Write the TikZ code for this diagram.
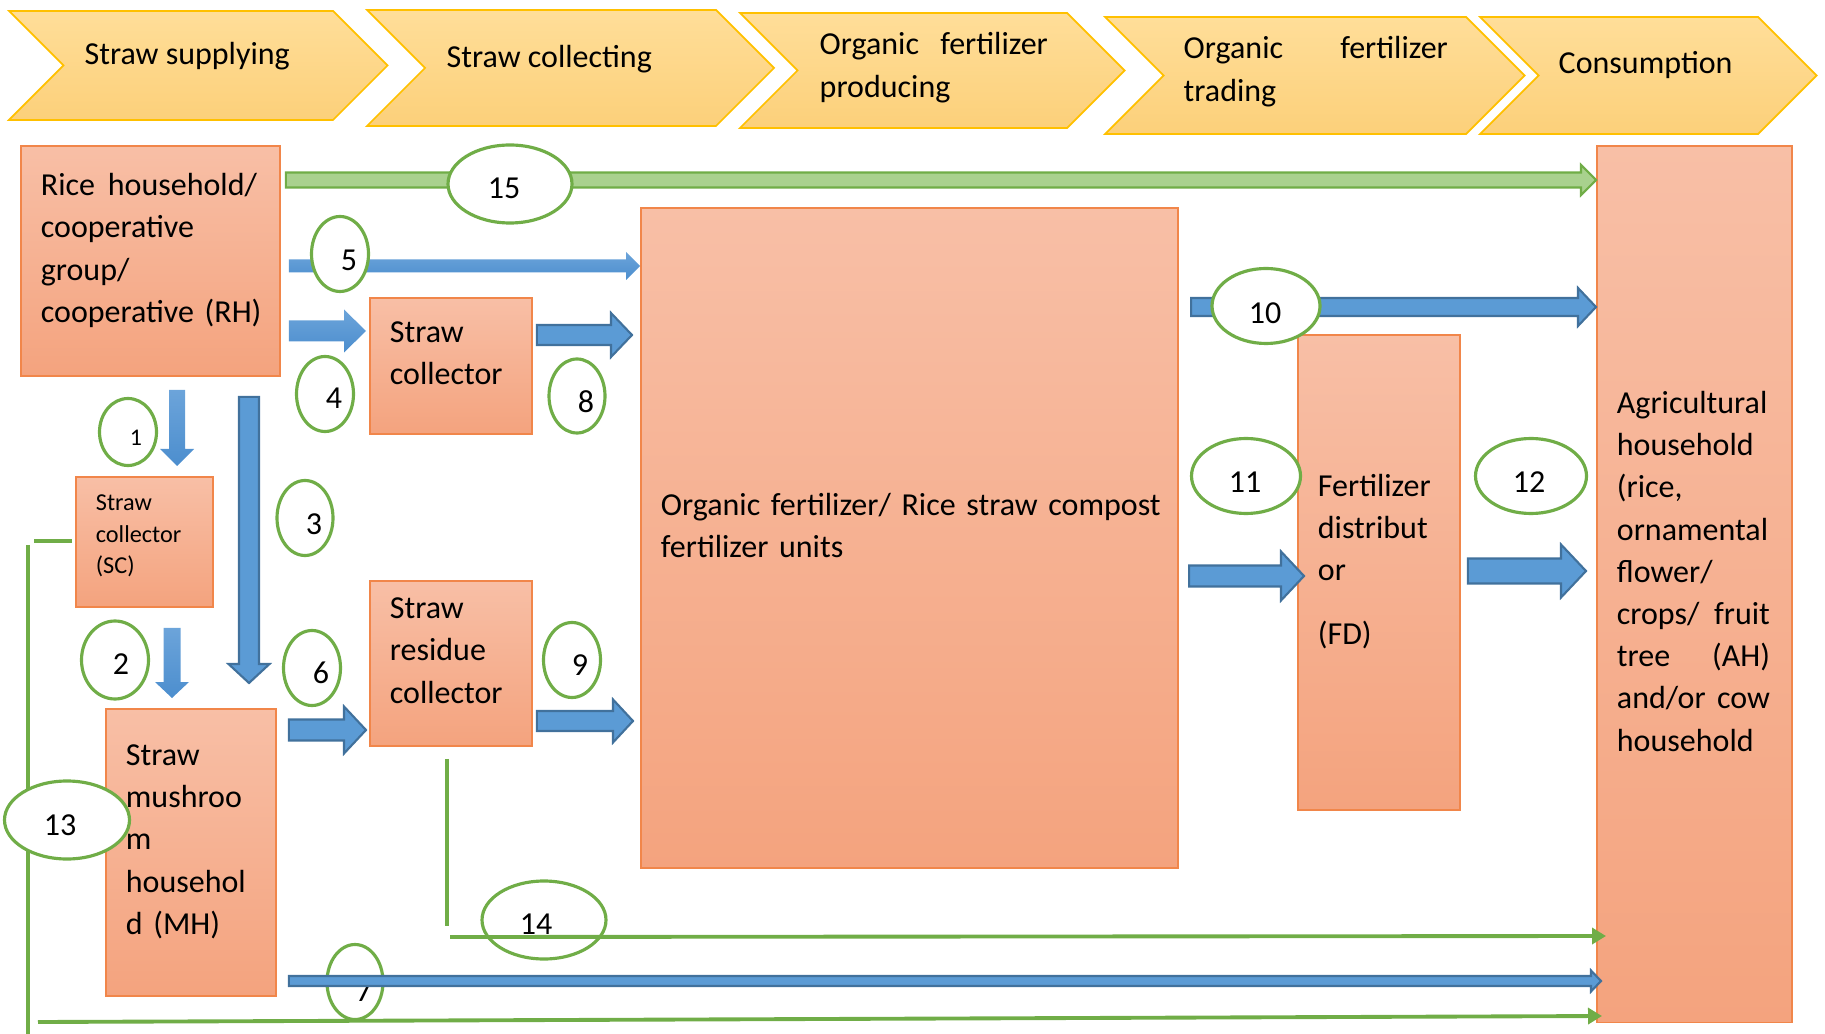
\documentclass[tikz,border=0pt]{standalone}
\usepackage{fontspec}
\setmainfont{Carlito}
\usetikzlibrary{calc,shapes.geometric,arrows.meta}
\definecolor{boxtop}{RGB}{248,191,166}
\definecolor{boxbot}{RGB}{244,163,126}
\definecolor{boxline}{RGB}{241,134,74}
\definecolor{phasetop}{RGB}{255,222,153}
\definecolor{phasebot}{RGB}{252,208,122}
\definecolor{phaseline}{RGB}{255,192,0}
\definecolor{flow}{RGB}{91,155,213}
\definecolor{flowtop}{RGB}{108,164,218}
\definecolor{flowbot}{RGB}{76,142,206}
\definecolor{flowline}{RGB}{65,113,156}
\definecolor{greenline}{RGB}{112,173,71}
\definecolor{greenfill}{RGB}{169,209,142}
\tikzstyle{box} = [draw=boxline, line width=0.5pt, top color=boxtop, bottom color=boxbot, anchor=north west, align=left, inner xsep=0.2cm, inner ysep=0pt]
\tikzstyle{unit} = [box, execute at end node={\rule[-0.26cm]{0pt}{0pt}}]
\tikzstyle{smallunit} = [box, font=\fontsize{6.9}{9}\selectfont, execute at end node={\rule[-0.15cm]{0pt}{0pt}}]
\tikzstyle{phase} = [draw=phaseline, line width=0.5pt, top color=phasetop, bottom color=phasebot]
\tikzstyle{phasetext} = [anchor=base west, inner sep=0pt, align=left]
\tikzstyle{num} = [ellipse, draw=greenline, line width=0.9pt, fill=white, inner sep=0pt]
\tikzstyle{numtext} = [inner sep=0pt]
\tikzstyle{link} = [draw=greenline, line width=1.1pt]
\tikzstyle{linkto} = [link, -{Triangle[length=0.14cm,width=0.16cm]}]
\tikzstyle{bblock} = [fill=flow, draw=flowline, line width=0.6pt]
\tikzstyle{bplain} = [top color=flowtop, bottom color=flowbot, draw=none]
\tikzstyle{gblock} = [fill=greenfill, draw=greenline, line width=0.6pt]
% justified line: width, first word, rest
\newcommand{\spread}[3]{\makebox[#1][l]{#2\hfill#3}}
% block arrows: style, from, to, half shaft, half head, head length (px)
\newcommand{\harrow}[6]{%
  \draw[#1] let \p1=(#2), \p2=(#3) in
    (\x1,\y1+#4*0.01cm) -- (\x2-#6*0.01cm,\y1+#4*0.01cm) -- (\x2-#6*0.01cm,\y1+#5*0.01cm)
    -- (\x2,\y1) -- (\x2-#6*0.01cm,\y1-#5*0.01cm) -- (\x2-#6*0.01cm,\y1-#4*0.01cm)
    -- (\x1,\y1-#4*0.01cm) -- cycle;}
\newcommand{\varrow}[6]{%
  \draw[#1] let \p1=(#2), \p2=(#3) in
    (\x1-#4*0.01cm,\y1) -- (\x1-#4*0.01cm,\y2+#6*0.01cm) -- (\x1-#5*0.01cm,\y2+#6*0.01cm)
    -- (\x1,\y2) -- (\x1+#5*0.01cm,\y2+#6*0.01cm) -- (\x1+#4*0.01cm,\y2+#6*0.01cm)
    -- (\x1+#4*0.01cm,\y1) -- cycle;}
\begin{document}
\begin{tikzpicture}[x=0.01cm, y=-0.01cm, font=\fontsize{9.1}{12}\selectfont]
\useasboundingbox (0,0) rectangle (1825,1034);

% stages
\foreach \x/\y/\w/\h in {9/11/324/109, 367/10/349/116, 740/13/327/115, 1105/17/361/117, 1480/17/278/117}
  \draw[phase] (\x,\y) -- ++(\w,0) -- ++(\h/2,\h/2) -- ++(-\h/2,\h/2) -- ++(-\w,0) -- ++(\h/2,-\h/2) -- cycle;
\node[phasetext] (supply) at (84,65) {Straw supplying};
\node[phasetext] (collect) at (446,68) {Straw collecting};
\node[phasetext, text width=2.28cm] (produce) at (819,55) {\spread{2.28cm}{Organic}{fertilizer}\\producing};
\node[phasetext, text width=2.64cm] (trade) at (1183,59) {\spread{2.64cm}{Organic}{fertilizer}\\trading};
\node[phasetext] (consume) at (1558,74) {Consumption};

% actors
\node[unit, minimum width=2.59cm, minimum height=2.30cm, text width=2.19cm] (rh) at (20,145)
  {\spread{2.16cm}{Rice}{household/}\\cooperative\\group/\\\mbox{cooperative (RH)}};
\node[smallunit, minimum width=1.37cm, minimum height=1.30cm, text width=0.97cm] (sc) at (75,476)
  {Straw\\collector\\(SC)};
\node[unit, minimum width=1.62cm, minimum height=1.36cm, text width=1.22cm] (coll) at (369,297)
  {Straw\\collector};
\node[unit, minimum width=1.62cm, minimum height=1.65cm, text width=1.22cm] (res) at (369,580)
  {Straw\\residue\\collector};
\node[unit, minimum width=1.70cm, minimum height=2.87cm, text width=1.30cm] (mh) at (105,708)
  {Straw\\mushroo\\m\\househol\\d (MH)};
\node[unit, minimum width=5.37cm, minimum height=6.60cm, text width=4.97cm] (of) at (640,207)
  {\mbox{Organic fertilizer/ Rice straw compost}\\fertilizer units};
\node[unit, minimum width=1.62cm, minimum height=4.75cm, text width=1.22cm] (fd) at (1297,334)
  {Fertilizer\\distribut\\or\\[0.22cm](FD)};
\node[unit, minimum width=1.95cm, minimum height=8.76cm, text width=1.55cm] (ah) at (1596,145)
  {Agricultural\\household\\(rice,\\ornamental\\flower/\\\spread{1.53cm}{crops/}{fruit}\\\spread{1.53cm}{tree}{(AH)}\\\spread{1.53cm}{and/or}{cow}\\household};

% numbers under the flows
\foreach \n/\x/\y/\w/\h/\dx/\dy/\t in {7/355/982/56/75/9/9/7, 14/544/920/124/78/-8/4/14}
{
  \node[num, minimum width=\w*0.01cm, minimum height=\h*0.01cm] (e\n) at (\x,\y) {};
  \node[numtext] (t\n) at ([shift={(\dx,\dy)}]e\n.center) {\t};
}

% flows
\harrow{gblock}{$(rh.east|-0,180)+(5,0)$}{ah.west|-0,180}{7.5}{15}{15}
\harrow{bplain}{$(rh.east|-0,266)+(8,0)$}{of.west|-0,266}{6.5}{14}{14}
\harrow{bplain}{$(rh.east|-0,331)+(8,0)$}{$(coll.west|-0,331)+(-3,0)$}{10.5}{21.5}{22}
\harrow{bblock}{$(coll.east|-0,335)+(4,0)$}{$(of.west|-0,335)+(-8,0)$}{10}{22}{21}
\harrow{bblock}{$(mh.east|-0,730)+(12,0)$}{$(res.west|-0,730)+(-3,0)$}{10.5}{23.5}{22}
\harrow{bblock}{$(res.east|-0,721)+(4,0)$}{$(of.west|-0,721)+(-7,0)$}{10}{21.5}{20}
\harrow{bblock}{$(of.east|-0,307)+(12,0)$}{ah.west|-0,307}{9}{19}{18}
\harrow{bblock}{$(of.east|-0,576)+(10,0)$}{$(fd.west|-0,576)+(7,0)$}{10.5}{24.5}{23}
\harrow{bblock}{$(fd.east|-0,571)+(7,0)$}{$(ah.west|-0,571)+(-10,0)$}{12.5}{26.5}{25}
\harrow{bblock}{$(mh.east|-0,981)+(12,0)$}{$(ah.west|-0,981)+(5,0)$}{5}{10.5}{10}
\varrow{bplain}{$(rh.south-|177,0)+(0,13)$}{$(sc.north-|177,0)+(0,-10)$}{8}{17}{17}
\varrow{bblock}{$(rh.south-|249,0)+(0,20)$}{$(mh.north-|249,0)+(0,-25)$}{10}{20.5}{19}
\varrow{bplain}{$(sc.south-|172,0)+(0,20)$}{$(mh.north-|172,0)+(0,-10)$}{8.5}{17}{16}

% straw links
\coordinate (l13a) at (34,541);
\coordinate (l13b) at (28,545);
\coordinate (l13c) at (28,1034);
\coordinate (l13d) at (38,1022);
\draw[link] ($(sc.west|-l13a)+(-3,0)$) -- (l13a);
\draw[link] (l13b) -- (l13c);
\draw[linkto] (l13d) -- ($(ah.west|-0,1016)+(6,0)$);
\coordinate (l14a) at (447,926);
\coordinate (l14b) at (450,937);
\draw[link] ($(res.south-|447,0)+(0,12)$) -- (l14a);
\draw[linkto] (l14b) -- ($(ah.west|-0,936)+(10,0)$);

% numbers on top
\foreach \n/\x/\y/\w/\h/\dx/\dy/\t in {15/510/184/124/78/-6/4/15, 5/340/254/57/75/9/6/5, 4/325/394/57/75/9/4/4,
  8/577/396/56/74/9/6/8, 1/128/432/57/67/8/6/{\fontsize{6.8}{8}\selectfont 1}, 3/305/518/56/75/9/6/3,
  2/115/660/67/78/6/4/2, 6/312/668/57/75/9/5/6, 9/572/660/57/75/8/5/9, 10/1266/306/108/75/-1/7/10,
  11/1246/476/109/75/-1/6/11, 12/1531/476/111/75/-2/6/12, 13/67/820/125/78/-7/5/13}
{
  \node[num, minimum width=\w*0.01cm, minimum height=\h*0.01cm] (e\n) at (\x,\y) {};
  \node[numtext] (t\n) at ([shift={(\dx,\dy)}]e\n.center) {\t};
}
\end{tikzpicture}
\end{document}
